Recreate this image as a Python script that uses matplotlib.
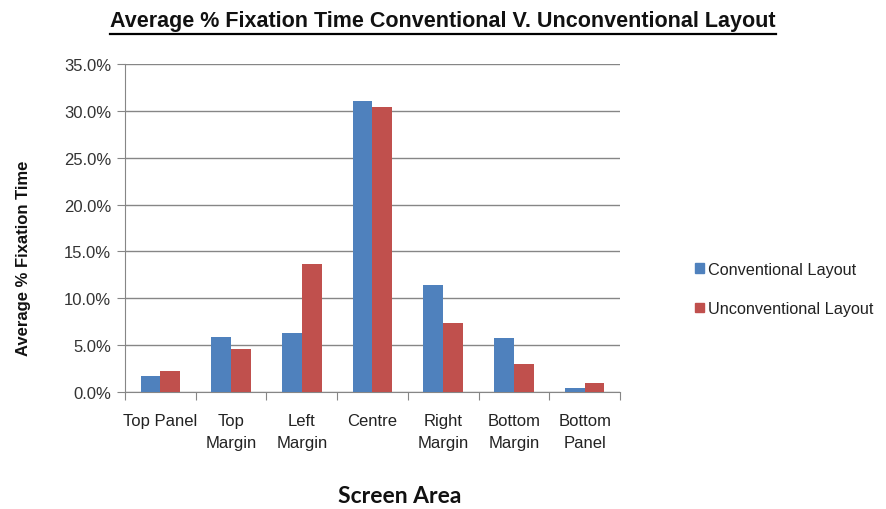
import matplotlib
matplotlib.use("Agg")
import matplotlib.pyplot as plt
import numpy as np
from matplotlib.ticker import PercentFormatter
from matplotlib.patches import Patch

categories = ["Top Panel", "Top\nMargin", "Left\nMargin", "Centre", "Right\nMargin", "Bottom\nMargin", "Bottom\nPanel"]
conventional = [1.72, 5.86, 6.26, 31.05, 11.4, 5.72, 0.43]
unconventional = [2.25, 4.54, 13.66, 30.4, 7.4, 2.96, 0.97]
series_names = ["Conventional Layout", "Unconventional Layout"]
colors = ["#4F81BD", "#C0504D"]

plt.rcParams['font.family'] = ['Liberation Sans', 'DejaVu Sans']

fig = plt.figure(figsize=(8.87, 5.10), dpi=100)
W, H = 887, 510
ax = fig.add_axes([125 / W, 1 - 393 / H, (620 - 125) / W, (393 - 65) / H])

x = np.arange(len(categories))
bw = 0.28
ax.bar(x - bw / 2, conventional, bw, color=colors[0], zorder=3)
ax.bar(x + bw / 2, unconventional, bw, color=colors[1], zorder=3)

ax.set_xlim(-0.5, len(categories) - 0.5)
ax.set_ylim(0, 35)
ax.set_yticks(np.arange(0, 35.1, 5))
ax.yaxis.set_major_formatter(PercentFormatter(decimals=1))
ax.grid(axis='y', color='#868686', linewidth=1, zorder=0)
for s in ['top', 'right']:
    ax.spines[s].set_visible(False)
for s in ['left', 'bottom']:
    ax.spines[s].set_color('#868686')
ax.set_xticks(np.arange(-0.5, len(categories), 1))
ax.set_xticklabels([])
ax.set_xticks(x, minor=True)
ax.set_xticklabels(categories, minor=True, fontsize=12, linespacing=1.6, color='#222222')
ax.tick_params(axis='x', which='major', length=6, color='#868686', direction='out')
ax.tick_params(axis='x', which='minor', length=0, pad=15)
ax.tick_params(axis='y', length=6, color='#868686', labelsize=12, labelcolor='#333333', pad=4)
for lbl in ax.get_xticklabels(minor=True):
    lbl.set_verticalalignment('top')

ax.set_ylabel("Average % Fixation Time", fontsize=12, fontweight='bold', color='#111111')
ax.yaxis.set_label_coords(-94 / 495, 0.41)

fig.text(400 / W, 1 - 497 / H, "Screen Area", fontsize=16.5, fontweight='bold',
         family=['Lato', 'DejaVu Sans'], ha='center', va='center', color='#111111')

t = fig.text(443 / W, 1 - 21 / H, "Average % Fixation Time Conventional V. Unconventional Layout",
             fontsize=15.5, fontweight='bold', ha='center', va='center', color='#111111')
fig.canvas.draw()
bb = t.get_window_extent()
fig.add_artist(plt.Line2D([bb.x0 / W, bb.x1 / W], [1 - 35 / H, 1 - 35 / H], color='black',
                          linewidth=1.6, transform=fig.transFigure))

handles = [Patch(color=c) for c in colors]
fig.legend(handles, series_names, loc='center left', bbox_to_anchor=(680 / W, 1 - 290 / H),
           frameon=False, fontsize=11.7, handlelength=0.55, handleheight=0.55, handletextpad=0.3,
           labelspacing=1.5, labelcolor='#222222')

fig.savefig("out.png", dpi=100)
